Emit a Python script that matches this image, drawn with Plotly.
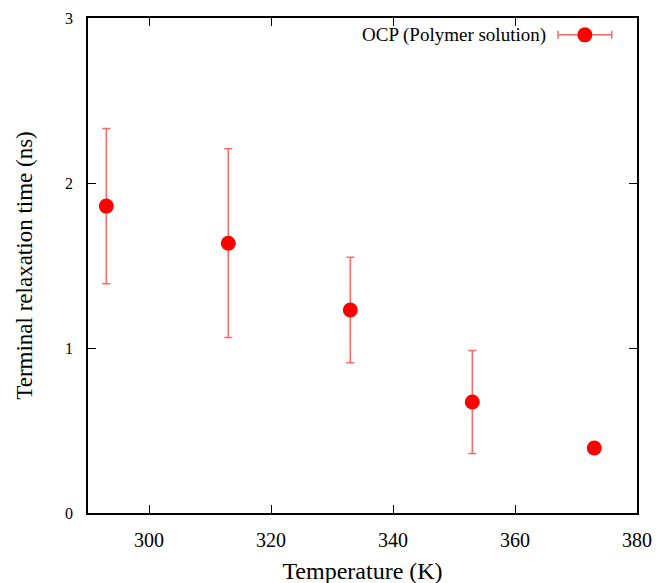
import plotly.graph_objects as go

# Data
temperature = [293, 313, 333, 353, 373]
relax_time = [1.86, 1.635, 1.23, 0.673, 0.394]
relax_err = [0.47, 0.572, 0.32, 0.312, 0.0]
series_name = "OCP (Polymer solution)"

x_ticks = [300, 320, 340, 360, 380]
y_ticks = [0, 1, 2, 3]

RED = "#ff0000"
ERR = "rgba(255,0,0,0.6)"
FONT = "Liberation Serif"

fig = go.Figure()
fig.add_trace(go.Scatter(
    x=temperature, y=relax_time, mode="markers",
    marker=dict(color=RED, size=15, line=dict(width=0)),
    error_y=dict(type="data", array=relax_err, visible=True,
                 color=ERR, thickness=1.5, width=4),
    showlegend=False, cliponaxis=False,
))

# legend sample (gnuplot-style key) on an overlay axis in unit coordinates
fig.add_trace(go.Scatter(
    x=[0.905], y=[0.966], mode="markers", xaxis="x2", yaxis="y2",
    marker=dict(color=RED, size=15),
    error_x=dict(type="constant", value=0.049, visible=True,
                 color=ERR, thickness=1.5, width=4),
    showlegend=False, cliponaxis=False,
))
fig.add_annotation(xref="paper", yref="paper", x=0.838, y=0.966,
                   text=series_name, showarrow=False, xanchor="right",
                   yanchor="middle", font=dict(family=FONT, size=19, color="black"))

axis_common = dict(showline=True, linecolor="black", linewidth=1.5, mirror="ticks",
                   ticks="inside", ticklen=8, tickwidth=1, tickcolor="black",
                   showgrid=False, zeroline=False)

fig.update_layout(
    width=670, height=583,
    margin=dict(l=80, r=41, t=10, b=78, autoexpand=False),
    plot_bgcolor="white", paper_bgcolor="white",
    font=dict(family=FONT, color="black"),
    xaxis=dict(range=[290, 380], tickvals=x_ticks,
               tickfont=dict(family=FONT, size=20), ticklabelstandoff=8,
               title=dict(text="Temperature (K)", font=dict(family=FONT, size=24), standoff=12),
               **axis_common),
    yaxis=dict(range=[0, 3], tickvals=y_ticks,
               tickfont=dict(family=FONT, size=16), ticklabelstandoff=10,
               title=dict(text="Terminal relaxation time (ns)", font=dict(family=FONT, size=23), standoff=26),
               **axis_common),
    xaxis2=dict(overlaying="x", range=[0, 1], visible=False),
    yaxis2=dict(overlaying="y", range=[0, 1], visible=False),
)

fig.write_html("out.html")
